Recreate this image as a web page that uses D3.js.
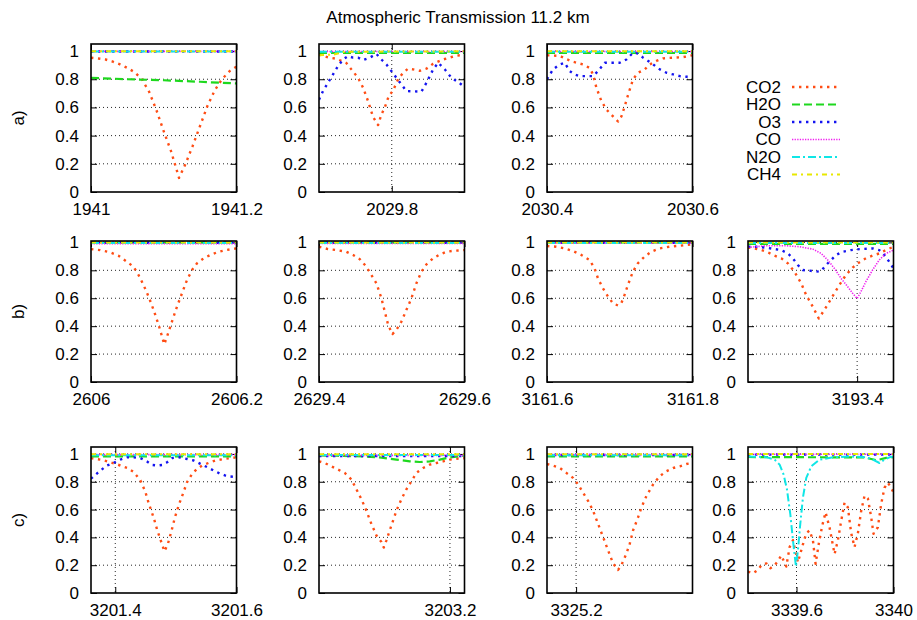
<!DOCTYPE html>
<html><head><meta charset="utf-8">
<script src="https://cdn.jsdelivr.net/npm/d3@7"></script>
<style>
body{margin:0;background:#fff}
svg text{font-family:"Liberation Sans",Arial,Helvetica,sans-serif;fill:#000}
</style>
</head><body>
<svg id="chart" width="917" height="620"></svg>
<script>
// ---------------- data ----------------
const titleText = "Atmospheric Transmission 11.2 km";
const gases = ["CO2","H2O","O3","CO","N2O","CH4"];
const rowLabels = ["a)","b)","c)"];
const yTicks = [0,0.2,0.4,0.6,0.8,1];
const panelIds = ["a1","a2","a3","b1","b2","b3","b4","c1","c2","c3","c4"];
const panelDomains = {a1:[1941,1941.2],a2:[2029.7,2029.9],a3:[2030.4,2030.6],b1:[2606,2606.2],b2:[2629.4,2629.6],b3:[3161.6,3161.8],b4:[3193.25,3193.45],c1:[3201.36,3201.6],c2:[3203.02,3203.22],c3:[3325.16,3325.36],c4:[3339.4,3340]};
const panelTicks = {a1:[1941,1941.2],a2:[2029.8],a3:[2030.4,2030.6],b1:[2606,2606.2],b2:[2629.4,2629.6],b3:[3161.6,3161.8],b4:[3193.4],c1:[3201.4,3201.6],c2:[3203.2],c3:[3325.2],c4:[3339.6,3340]};

// a1
const a1_CO2=[[1941.00,0.953],[1941.01,0.947],[1941.02,0.94],[1941.03,0.925],[1941.04,0.905],[1941.05,0.88],[1941.06,0.85],[1941.07,0.80],[1941.08,0.71],[1941.09,0.58],[1941.10,0.43],[1941.11,0.29],[1941.121,0.10],[1941.13,0.2],[1941.14,0.33],[1941.15,0.47],[1941.16,0.61],[1941.17,0.72],[1941.18,0.80],[1941.19,0.855],[1941.20,0.89]];
const a1_H2O=[[1941.00,0.81],[1941.05,0.80],[1941.10,0.793],[1941.15,0.782],[1941.20,0.77]];
const a1_O3=[[1941,0.997],[1941.2,0.997]];
const a1_CO=[[1941,0.998],[1941.2,0.998]];
const a1_N2O=[[1941,0.996],[1941.2,0.996]];
const a1_CH4=[[1941,0.999],[1941.2,0.999]];
// a2
const a2_CO2=[[2029.7,0.976],[2029.7124,0.955],[2029.7239,0.945],[2029.7376,0.915],[2029.7445,0.87],[2029.7537,0.81],[2029.7606,0.74],[2029.7674,0.645],[2029.7743,0.533],[2029.7812,0.475],[2029.7858,0.55],[2029.7904,0.60],[2029.7959,0.68],[2029.8018,0.72],[2029.8087,0.80],[2029.8156,0.846],[2029.8225,0.875],[2029.8294,0.87],[2029.8385,0.86],[2029.8477,0.875],[2029.8569,0.91],[2029.8706,0.94],[2029.8867,0.965],[2029.9,0.975]];
const a2_H2O=[[2029.7,0.986],[2029.9,0.986]];
const a2_O3=[[2029.7,0.655],[2029.7055,0.716],[2029.7124,0.775],[2029.7193,0.834],[2029.7261,0.893],[2029.733,0.94],[2029.7399,0.964],[2029.7468,0.953],[2029.7537,0.953],[2029.7606,0.936],[2029.7697,0.953],[2029.7789,0.98],[2029.7858,0.94],[2029.7927,0.905],[2029.7995,0.858],[2029.8064,0.81],[2029.8133,0.763],[2029.8202,0.716],[2029.8408,0.712],[2029.8477,0.775],[2029.8569,0.87],[2029.8638,0.917],[2029.8729,0.87],[2029.8821,0.81],[2029.8913,0.78],[2029.9,0.746]];
const a2_CO=[[2029.7,0.997],[2029.9,0.997]];
const a2_N2O=[[2029.7,0.995],[2029.9,0.995]];
const a2_CH4=[[2029.7,0.97],[2029.72,0.975],[2029.735,0.995],[2029.9,0.998]];
// a3
const a3_CO2=[[2030.4,0.97],[2030.4174,0.966],[2030.4243,0.948],[2030.4358,0.924],[2030.4495,0.905],[2030.4587,0.88],[2030.4633,0.834],[2030.4679,0.74],[2030.4748,0.645],[2030.4817,0.585],[2030.4908,0.536],[2030.4977,0.50],[2030.5023,0.536],[2030.5069,0.61],[2030.5115,0.69],[2030.5183,0.80],[2030.5252,0.846],[2030.5344,0.87],[2030.5413,0.905],[2030.5505,0.93],[2030.5596,0.948],[2030.5734,0.953],[2030.5872,0.957],[2030.6,0.97]];
const a3_H2O=[[2030.4,0.986],[2030.6,0.986]];
const a3_O3=[[2030.4,0.80],[2030.4083,0.87],[2030.4174,0.905],[2030.4243,0.917],[2030.4312,0.858],[2030.4381,0.834],[2030.445,0.822],[2030.4633,0.822],[2030.4702,0.858],[2030.4794,0.917],[2030.5,0.917],[2030.5092,0.94],[2030.5183,0.988],[2030.5252,0.983],[2030.5321,0.953],[2030.539,0.93],[2030.5459,0.905],[2030.555,0.87],[2030.5642,0.846],[2030.5734,0.834],[2030.5826,0.822],[2030.5917,0.818],[2030.6,0.827]];
const a3_CO=[[2030.4,0.997],[2030.6,0.997]];
const a3_N2O=[[2030.4,0.995],[2030.6,0.995]];
const a3_CH4=[[2030.4,0.999],[2030.6,0.999]];
// b1
const b1_CO2=[[2606.0,0.952],[2606.0124,0.945],[2606.0262,0.929],[2606.0377,0.905],[2606.0492,0.862],[2606.0584,0.826],[2606.0653,0.767],[2606.0722,0.695],[2606.0791,0.612],[2606.086,0.517],[2606.0929,0.41],[2606.1007,0.27],[2606.1053,0.338],[2606.1113,0.433],[2606.1182,0.54],[2606.1251,0.636],[2606.132,0.731],[2606.1389,0.802],[2606.1457,0.85],[2606.1549,0.886],[2606.1641,0.91],[2606.1733,0.929],[2606.1848,0.945],[2606.2,0.957]];
const b1_H2O=[[2606,0.998],[2606.2,0.998]];
const b1_O3=[[2606,0.997],[2606.2,0.997]];
const b1_CO=[[2606,0.99],[2606.2,0.99]];
const b1_N2O=[[2606,0.996],[2606.2,0.996]];
const b1_CH4=[[2606,0.999],[2606.2,0.999]];
// b2
const b2_CO2=[[2629.4,0.969],[2629.4124,0.952],[2629.4239,0.945],[2629.4376,0.933],[2629.4468,0.91],[2629.456,0.88],[2629.4651,0.826],[2629.472,0.767],[2629.4789,0.707],[2629.4858,0.60],[2629.4904,0.505],[2629.495,0.41],[2629.5009,0.343],[2629.5064,0.374],[2629.5133,0.433],[2629.5202,0.517],[2629.5271,0.60],[2629.5339,0.707],[2629.5408,0.79],[2629.5477,0.843],[2629.5569,0.886],[2629.5661,0.914],[2629.5752,0.933],[2629.5844,0.94],[2629.6,0.945]];
const b2_H2O=[[2629.4,0.998],[2629.6,0.998]];
const b2_O3=[[2629.4,0.997],[2629.6,0.997]];
const b2_CO=[[2629.4,0.992],[2629.6,0.992]];
const b2_N2O=[[2629.4,0.996],[2629.6,0.996]];
const b2_CH4=[[2629.4,0.999],[2629.6,0.999]];
// b3
const b3_CO2=[[3161.6,0.974],[3161.6128,0.969],[3161.6243,0.957],[3161.6357,0.938],[3161.6471,0.91],[3161.6586,0.874],[3161.6654,0.814],[3161.67,0.743],[3161.6769,0.671],[3161.6838,0.612],[3161.6906,0.564],[3161.6975,0.548],[3161.7021,0.564],[3161.7066,0.624],[3161.7112,0.695],[3161.7181,0.79],[3161.7249,0.85],[3161.7341,0.898],[3161.7432,0.933],[3161.7547,0.957],[3161.7684,0.969],[3161.7822,0.976],[3161.8,0.986]];
const b3_H2O=[[3161.6,0.998],[3161.8,0.998]];
const b3_O3=[[3161.6,0.997],[3161.8,0.997]];
const b3_CO=[[3161.6,0.994],[3161.8,0.994]];
const b3_N2O=[[3161.6,0.996],[3161.8,0.996]];
const b3_CH4=[[3161.6,0.999],[3161.8,0.999]];
// b4
const b4_CO2=[[3193.25,0.964],[3193.2591,0.957],[3193.2683,0.945],[3193.2774,0.929],[3193.2865,0.905],[3193.2957,0.886],[3193.3048,0.85],[3193.3139,0.79],[3193.3231,0.707],[3193.3299,0.624],[3193.339,0.54],[3193.3473,0.455],[3193.355,0.517],[3193.3619,0.576],[3193.3687,0.636],[3193.3756,0.695],[3193.3847,0.767],[3193.3938,0.819],[3193.403,0.857],[3193.4121,0.886],[3193.4212,0.905],[3193.4304,0.921],[3193.4395,0.945],[3193.45,0.969]];
const b4_H2O=[[3193.25,0.99],[3193.45,0.99]];
const b4_O3=[[3193.25,0.969],[3193.2637,0.969],[3193.2751,0.962],[3193.2865,0.952],[3193.2957,0.945],[3193.3048,0.921],[3193.3116,0.886],[3193.3185,0.838],[3193.3253,0.802],[3193.3345,0.798],[3193.3436,0.79],[3193.3505,0.795],[3193.3573,0.838],[3193.3642,0.874],[3193.371,0.91],[3193.3801,0.933],[3193.3916,0.945],[3193.403,0.952],[3193.4212,0.957],[3193.4304,0.945],[3193.4372,0.91],[3193.4441,0.862],[3193.45,0.814]];
const b4_CO=[[3193.25,0.964],[3193.2751,0.976],[3193.3025,0.976],[3193.3208,0.969],[3193.339,0.952],[3193.3505,0.921],[3193.3596,0.874],[3193.3687,0.814],[3193.3779,0.743],[3193.387,0.683],[3193.3938,0.636],[3193.4,0.598],[3193.4053,0.648],[3193.4121,0.719],[3193.4212,0.802],[3193.4304,0.874],[3193.4395,0.921],[3193.45,0.945]];
const b4_N2O=[[3193.25,0.995],[3193.45,0.995]];
const b4_CH4=[[3193.25,0.999],[3193.45,0.999]];
// c1
const c1_CO2=[[3201.36,0.97],[3201.3809,0.955],[3201.3919,0.94],[3201.4002,0.929],[3201.4084,0.917],[3201.4194,0.90],[3201.4305,0.87],[3201.4415,0.81],[3201.4497,0.727],[3201.4552,0.645],[3201.4635,0.54],[3201.469,0.456],[3201.4745,0.385],[3201.4811,0.30],[3201.4866,0.35],[3201.4927,0.445],[3201.4982,0.54],[3201.5048,0.633],[3201.5119,0.716],[3201.5185,0.798],[3201.5268,0.857],[3201.535,0.893],[3201.5433,0.917],[3201.5543,0.936],[3201.5653,0.953],[3201.5791,0.964],[3201.5901,0.97],[3201.6,0.976]];
const c1_H2O=[[3201.36,0.983],[3201.6,0.983]];
const c1_O3=[[3201.36,0.822],[3201.3672,0.85],[3201.3754,0.88],[3201.3864,0.917],[3201.3974,0.936],[3201.4084,0.96],[3201.4194,0.976],[3201.4305,0.976],[3201.4415,0.97],[3201.4525,0.945],[3201.4607,0.921],[3201.469,0.917],[3201.4772,0.921],[3201.4855,0.94],[3201.4938,0.97],[3201.5048,0.976],[3201.5185,0.964],[3201.5295,0.953],[3201.5405,0.929],[3201.5516,0.905],[3201.5626,0.88],[3201.5736,0.857],[3201.5846,0.84],[3201.6,0.834]];
const c1_CO=[[3201.36,0.995],[3201.6,0.995]];
const c1_N2O=[[3201.36,0.99],[3201.6,0.99]];
const c1_CH4=[[3201.36,0.997],[3201.6,0.997]];
// c2
const c2_CO2=[[3203.02,0.947],[3203.0278,0.935],[3203.037,0.911],[3203.0461,0.888],[3203.0553,0.864],[3203.0645,0.817],[3203.0714,0.746],[3203.0783,0.675],[3203.0851,0.592],[3203.092,0.497],[3203.0989,0.414],[3203.1058,0.367],[3203.109,0.327],[3203.1127,0.379],[3203.1172,0.45],[3203.1218,0.52],[3203.1264,0.592],[3203.1333,0.675],[3203.1402,0.746],[3203.1471,0.805],[3203.1539,0.864],[3203.1631,0.899],[3203.1723,0.923],[3203.1815,0.935],[3203.1906,0.947],[3203.1998,0.959],[3203.209,0.966],[3203.22,0.97]];
const c2_H2O=[[3203.02,0.989],[3203.0439,0.987],[3203.0806,0.982],[3203.1035,0.975],[3203.1264,0.959],[3203.1448,0.947],[3203.1585,0.942],[3203.1723,0.947],[3203.1861,0.959],[3203.1998,0.975],[3203.22,0.989]];
const c2_O3=[[3203.02,0.985],[3203.22,0.985]];
const c2_CO=[[3203.02,0.99],[3203.22,0.99]];
const c2_N2O=[[3203.02,0.993],[3203.22,0.993]];
const c2_CH4=[[3203.02,0.997],[3203.22,0.997]];
// c3
const c3_CO2=[[3325.16,0.928],[3325.1683,0.916],[3325.1774,0.90],[3325.1866,0.864],[3325.1958,0.828],[3325.2027,0.781],[3325.2095,0.722],[3325.2164,0.663],[3325.2233,0.592],[3325.2302,0.497],[3325.2371,0.402],[3325.2439,0.308],[3325.2508,0.213],[3325.2577,0.166],[3325.2623,0.201],[3325.2692,0.284],[3325.2738,0.355],[3325.2783,0.45],[3325.2852,0.544],[3325.2898,0.615],[3325.2967,0.698],[3325.3059,0.781],[3325.315,0.84],[3325.3242,0.876],[3325.3334,0.899],[3325.3426,0.911],[3325.3517,0.928],[3325.36,0.935]];
const c3_H2O=[[3325.16,0.983],[3325.36,0.983]];
const c3_O3=[[3325.16,0.993],[3325.36,0.993]];
const c3_CO=[[3325.16,0.995],[3325.36,0.995]];
const c3_N2O=[[3325.16,0.99],[3325.36,0.99]];
const c3_CH4=[[3325.16,0.998],[3325.36,0.998]];
// c4
const c4_CO2=[[3339.4,0.154],[3339.4206,0.142],[3339.4412,0.166],[3339.4549,0.20],[3339.4755,0.213],[3339.492,0.178],[3339.5098,0.20],[3339.5236,0.23],[3339.5373,0.27],[3339.5579,0.19],[3339.5716,0.33],[3339.5854,0.38],[3339.6059,0.22],[3339.6265,0.35],[3339.6403,0.43],[3339.654,0.45],[3339.6677,0.38],[3339.6787,0.21],[3339.6924,0.36],[3339.7062,0.485],[3339.7199,0.58],[3339.7364,0.47],[3339.757,0.28],[3339.7707,0.38],[3339.7844,0.52],[3339.7982,0.65],[3339.8119,0.615],[3339.8256,0.43],[3339.8394,0.33],[3339.8531,0.43],[3339.8668,0.59],[3339.8806,0.70],[3339.8943,0.68],[3339.908,0.545],[3339.9176,0.426],[3339.9355,0.473],[3339.9492,0.64],[3339.9629,0.757],[3339.9767,0.793],[3339.9904,0.757],[3340.0,0.722]];
const c4_H2O=[[3339.4,0.978],[3339.88,0.975],[3339.93,0.955],[3339.97,0.972],[3340,0.977]];
const c4_O3=[[3339.4,0.995],[3340,0.995]];
const c4_CO=[[3339.4,0.998],[3340,0.998]];
const c4_N2O=[[3339.4,0.982],[3339.4755,0.977],[3339.5098,0.959],[3339.5304,0.923],[3339.5469,0.852],[3339.5606,0.746],[3339.5744,0.568],[3339.5854,0.379],[3339.5977,0.19],[3339.6059,0.308],[3339.6156,0.497],[3339.6265,0.686],[3339.6403,0.828],[3339.6609,0.911],[3339.6952,0.959],[3339.7501,0.976],[3339.8188,0.982],[3339.8874,0.976],[3339.9149,0.959],[3339.9423,0.935],[3339.9629,0.959],[3339.9835,0.976],[3340.0,0.982]];
const c4_CH4=[[3339.4,0.999],[3340,0.999]];

// table built from the arrays
const seriesTable = {
  a1:[a1_CO2,a1_H2O,a1_O3,a1_CO,a1_N2O,a1_CH4],
  a2:[a2_CO2,a2_H2O,a2_O3,a2_CO,a2_N2O,a2_CH4],
  a3:[a3_CO2,a3_H2O,a3_O3,a3_CO,a3_N2O,a3_CH4],
  b1:[b1_CO2,b1_H2O,b1_O3,b1_CO,b1_N2O,b1_CH4],
  b2:[b2_CO2,b2_H2O,b2_O3,b2_CO,b2_N2O,b2_CH4],
  b3:[b3_CO2,b3_H2O,b3_O3,b3_CO,b3_N2O,b3_CH4],
  b4:[b4_CO2,b4_H2O,b4_O3,b4_CO,b4_N2O,b4_CH4],
  c1:[c1_CO2,c1_H2O,c1_O3,c1_CO,c1_N2O,c1_CH4],
  c2:[c2_CO2,c2_H2O,c2_O3,c2_CO,c2_N2O,c2_CH4],
  c3:[c3_CO2,c3_H2O,c3_O3,c3_CO,c3_N2O,c3_CH4],
  c4:[c4_CO2,c4_H2O,c4_O3,c4_CO,c4_N2O,c4_CH4]
};

// ---------------- styles / layout ----------------
const gasStyle = [
  {color:"#ff4d14", width:2.4, dash:"2.4,4.6"},
  {color:"#1ed81e", width:2.2, dash:"8,4"},
  {color:"#1414f0", width:2.4, dash:"2.4,4.6"},
  {color:"#f020f0", width:1.6, dash:"1.3,1.3"},
  {color:"#10e6e6", width:2.0, dash:"8,3,2,3"},
  {color:"#e8e800", width:2.0, dash:"5,4,2,4"}
];
const colLeft = [91,319,547,748];
const panelW = 145.5;
const rowTop = [44,241,447];
const rowBot = [192,382,593];
const rowYMax = [1.05,1.01,1.05];
const FONT = 17;

const svg = d3.select("#chart");
svg.append("rect").attr("width",917).attr("height",620).attr("fill","#fff");

svg.append("text").attr("x",458).attr("y",23).attr("text-anchor","middle")
  .style("font-size",FONT+"px").text(titleText);

rowLabels.forEach((t,i)=>{
  const cy = (rowTop[i]+rowBot[i])/2;
  svg.append("text").attr("transform",`translate(24,${cy}) rotate(-90)`)
    .attr("text-anchor","middle").style("font-size",FONT+"px").text(t);
});

const fmt = d => String(+d.toFixed(3));

panelIds.forEach((id,pi)=>{
  const row = "abc".indexOf(id[0]);
  const col = +id[1]-1;
  const x0 = colLeft[col], x1 = x0+panelW;
  const y0 = rowTop[row], y1 = rowBot[row];
  const x = d3.scaleLinear().domain(panelDomains[id]).range([x0,x1]);
  const y = d3.scaleLinear().domain([0,rowYMax[row]]).range([y1,y0]);
  const g = svg.append("g");
  const clipId = "clip-"+id;
  g.append("clipPath").attr("id",clipId).append("rect")
    .attr("x",x0).attr("y",y0).attr("width",panelW).attr("height",y1-y0);

  // grid
  const grid = g.append("g");
  yTicks.filter(v=>v>0).forEach(v=>{
    grid.append("line").attr("x1",x0).attr("x2",x1).attr("y1",y(v)).attr("y2",y(v))
      .attr("stroke","#000").attr("stroke-width",1).attr("stroke-dasharray","1,3").attr("opacity",0.85);
  });
  const dom = panelDomains[id];
  panelTicks[id].filter(v=>v>dom[0]+1e-9 && v<dom[1]-1e-9).forEach(v=>{
    grid.append("line").attr("y1",y0).attr("y2",y1).attr("x1",x(v)).attr("x2",x(v))
      .attr("stroke","#000").attr("stroke-width",1).attr("stroke-dasharray","1,3").attr("opacity",0.85);
  });

  // axes (inward ticks, mirrored)
  const axB = d3.axisBottom(x).tickValues(panelTicks[id]).tickSizeInner(-6).tickSizeOuter(0).tickPadding(12).tickFormat(fmt);
  const axT = d3.axisTop(x).tickValues(panelTicks[id]).tickSizeInner(-6).tickSizeOuter(0).tickFormat("");
  const axL = d3.axisLeft(y).tickValues(yTicks).tickSizeInner(-6).tickSizeOuter(0).tickPadding(12).tickFormat(d=>String(d));
  const axR = d3.axisRight(y).tickValues(yTicks).tickSizeInner(-6).tickSizeOuter(0).tickFormat("");
  const styleAxis = sel => {
    sel.select(".domain").remove();
    sel.selectAll("line").attr("stroke","#000").attr("stroke-width",1);
    sel.selectAll("text").style("font-size",FONT+"px").style("font-family","'Liberation Sans',Arial,sans-serif").attr("fill","#000");
  };
  g.append("g").attr("transform",`translate(0,${y1})`).call(axB).call(styleAxis)
    .selectAll("text").attr("dy","0.71em").attr("y",11);
  g.append("g").attr("transform",`translate(0,${y0})`).call(axT).call(styleAxis);
  g.append("g").attr("transform",`translate(${x0},0)`).call(axL).call(styleAxis);
  g.append("g").attr("transform",`translate(${x1},0)`).call(axR).call(styleAxis);

  // curves
  const line = d3.line().x(d=>x(d[0])).y(d=>y(d[1]));
  const curves = g.append("g").attr("clip-path",`url(#${clipId})`);
  seriesTable[id].forEach((s,gi)=>{
    const st = gasStyle[gi];
    curves.append("path").datum(s).attr("d",line).attr("fill","none")
      .attr("stroke",st.color).attr("stroke-width",st.width).attr("stroke-dasharray",st.dash)
      .attr("stroke-linejoin","round");
  });

  // frame
  g.append("rect").attr("x",x0).attr("y",y0).attr("width",panelW).attr("height",y1-y0)
    .attr("fill","none").attr("stroke","#000").attr("stroke-width",1.6);
});

// legend
const legY = [87,104.5,122,139.5,157,174.5];
const lg = svg.append("g");
gases.forEach((name,i)=>{
  const st = gasStyle[i];
  lg.append("text").attr("x",781).attr("y",legY[i]).attr("dy","0.35em").attr("text-anchor","end")
    .style("font-size",FONT+"px").text(name);
  lg.append("line").attr("x1",792).attr("x2",840).attr("y1",legY[i]).attr("y2",legY[i])
    .attr("stroke",st.color).attr("stroke-width",st.width).attr("stroke-dasharray",st.dash);
});
</script>
</body></html>
